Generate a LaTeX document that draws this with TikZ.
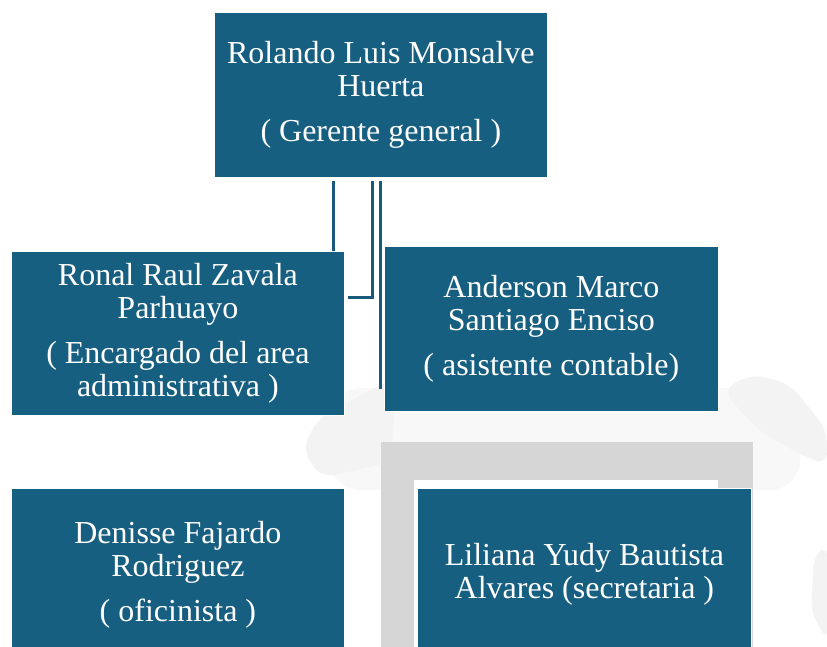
\documentclass[tikz,border=0pt]{standalone}
\usepackage{fontspec}
\setmainfont{Liberation Serif}
\usetikzlibrary{positioning}
\definecolor{cargo}{HTML}{175F81}
\definecolor{enlace}{HTML}{175A7B}
\definecolor{marco}{HTML}{D6D6D6}
\definecolor{sombra}{HTML}{F3F3F3}
\definecolor{velo}{HTML}{F8F8F8}
\begin{document}
\begin{tikzpicture}[x=1pt,y=-1pt,every node/.style={shape=rectangle,fill=cargo,draw=white,line width=0.8pt,text=white,align=center,font=\fontsize{32}{33}\selectfont,inner sep=0pt,anchor=north west},linea/.style={draw=enlace,line width=3pt}]

\clip (0,0) rectangle (827,647);
\fill[white] (0,0) rectangle (827,647);
% fondo
\fill[velo, rounded corners=30pt] (330,388) rectangle (800,490);
\fill[sombra, rounded corners=14pt] (398,376) -- (318,418) -- (302,450) -- (322,478) -- (390,462) -- cycle;
\fill[sombra, rounded corners=14pt] (722,390) -- (752,374) -- (790,384) -- (827,430) -- (827,466) -- (796,452) -- (758,430) -- cycle;
\fill[sombra, rounded corners=10pt] (827,545) -- (814,556) -- (811,612) -- (827,640) -- cycle;
\fill[marco] (381,442) rectangle (753,647);
\fill[white] (414,480) rectangle (718,647);

\node [minimum width=333pt, minimum height=165pt] (gerente) at (214,12) {Rolando Luis Monsalve\\Huerta\\[12pt]( Gerente general )};
\node [minimum width=333pt, minimum height=164pt] (admin) at (11,251) {Ronal Raul Zavala\\Parhuayo\\[12pt]( Encargado del area\\administrativa )};
\node [minimum width=334pt, minimum height=165pt] (contable) at (384,246) {Anderson Marco\\Santiago Enciso\\[12pt]( asistente contable)};
\node [minimum width=333pt, minimum height=172pt] (oficina) at (11,488) {Denisse Fajardo\\Rodriguez\\[12pt]( oficinista )};
\node [minimum width=334pt, minimum height=172pt] (secretaria) at (417,488) {Liliana Yudy Bautista\\Alvares (secretaria )};

\coordinate (c1) at ([xshift=119pt,yshift=-3pt]gerente.south west);
\coordinate (c2) at ([xshift=158pt,yshift=-3pt]gerente.south west);
\coordinate (c3) at ([xshift=166pt,yshift=-3pt]gerente.south west);
\path[linea] (c1) -- (c1 |- admin.north) -- ++(0,-3);
\path[linea] (c2) |- ([xshift=3pt,yshift=-46pt]admin.north east);
\path[linea] (c3) -- ([yshift=23pt]c3 |- contable.south);

\end{tikzpicture}
\end{document}
